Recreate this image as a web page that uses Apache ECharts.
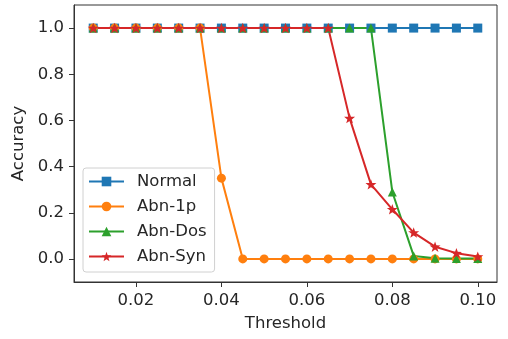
<!DOCTYPE html>
<html>
<head>
<meta charset="utf-8">
<script src="https://cdn.jsdelivr.net/npm/echarts@6/dist/echarts.min.js"></script>
<style>
  html, body { margin: 0; padding: 0; background: #fff; }
  #chart { width: 508px; height: 339px; }
</style>
</head>
<body>
<div id="chart"></div>
<script>
// 阈值 (x)
const thresholds = [0.01, 0.015, 0.02, 0.025, 0.03, 0.035, 0.04, 0.045, 0.05, 0.055,
  0.06, 0.065, 0.07, 0.075, 0.08, 0.085, 0.09, 0.095, 0.10]
// 各类样本的准确率
const normal = [1, 1, 1, 1, 1, 1, 1, 1, 1, 1, 1, 1, 1, 1, 1, 1, 1, 1, 1]
const abn1p = [1, 1, 1, 1, 1, 1, 0.35, 0, 0, 0, 0, 0, 0, 0, 0, 0, 0, 0, 0]
const abnDos = [1, 1, 1, 1, 1, 1, 1, 1, 1, 1, 1, 1, 1, 1, 0.29, 0.013, 0.003, 0.002, 0.002]
const abnSyn = [1, 1, 1, 1, 1, 1, 1, 1, 1, 1, 1, 1, 0.61, 0.323, 0.215, 0.114, 0.053, 0.025, 0.01]
// 刻度
const xTicks = [0.02, 0.04, 0.06, 0.08, 0.10]
const yTicks = [0.0, 0.2, 0.4, 0.6, 0.8, 1.0]

const STAR = 'path://M0,-10 L2.35,-3.24 L9.51,-3.09 L3.8,1.24 L5.88,8.09 L0,4 L-5.88,8.09 L-3.8,1.24 L-9.51,-3.09 L-2.35,-3.24 Z'
const FONT = 'DejaVu Sans'
const TXT = '#262626'

function pairs(ys) {
  return thresholds.map((x, i) => [x, ys[i]])
}

function lineSeries(name, ys, color, symbol, size) {
  return {
    name,
    type: 'line',
    data: pairs(ys),
    symbol,
    symbolSize: size,
    symbolKeepAspect: true,
    showAllSymbol: true,
    itemStyle: { color },
    lineStyle: { color, width: 2 },
    emphasis: { disabled: true },
    animation: false
  }
}

const chart = echarts.init(document.getElementById('chart'))

chart.setOption({
  animation: false,
  grid: {
    left: 74, right: 11, top: 5, bottom: 57,
    outerBoundsMode: 'none',
    show: true, borderColor: '#333', borderWidth: 1
  },
  legend: {
    orient: 'vertical',
    left: 83,
    top: 168,
    padding: [5, 8, 7, 5],
    itemWidth: 35,
    itemHeight: 12,
    itemGap: 8,
    borderColor: '#d0d0d0',
    borderWidth: 1,
    borderRadius: 3,
    backgroundColor: 'rgba(255,255,255,0.8)',
    textStyle: { fontFamily: FONT, fontSize: 16.5, color: TXT, padding: [0, 0, 0, 8] },
    data: ['Normal', 'Abn-1p', 'Abn-Dos', 'Abn-Syn']
  },
  xAxis: {
    type: 'value',
    min: 0.0055,
    max: 0.1045,
    name: 'Threshold',
    nameLocation: 'middle',
    nameGap: 33,
    nameTextStyle: { fontFamily: FONT, fontSize: 16.5, color: TXT },
    axisLine: { show: true, onZero: false, lineStyle: { color: '#333', width: 1 } },
    axisTick: { show: true, length: 5, customValues: xTicks, lineStyle: { color: '#333' } },
    axisLabel: {
      customValues: xTicks,
      margin: 10,
      fontFamily: FONT, fontSize: 16.5, color: TXT,
      formatter: v => v.toFixed(2)
    },
    splitLine: { show: false }
  },
  yAxis: {
    type: 'value',
    min: -0.1,
    max: 1.1,
    name: 'Accuracy',
    nameLocation: 'middle',
    nameGap: 44,
    nameTextStyle: { fontFamily: FONT, fontSize: 16.5, color: TXT },
    axisLine: { show: true, onZero: false, lineStyle: { color: '#333', width: 1 } },
    axisTick: { show: true, length: 5, customValues: yTicks, lineStyle: { color: '#333' } },
    axisLabel: {
      customValues: yTicks,
      margin: 10,
      fontFamily: FONT, fontSize: 16.5, color: TXT,
      formatter: v => v.toFixed(1)
    },
    splitLine: { show: false }
  },
  series: [
    lineSeries('Normal', normal, '#1f77b4', 'rect', 9),
    lineSeries('Abn-1p', abn1p, '#ff7f0e', 'circle', 9),
    lineSeries('Abn-Dos', abnDos, '#2ca02c', 'triangle', 9),
    lineSeries('Abn-Syn', abnSyn, '#d62728', STAR, 11)
  ]
})
</script>
</body>
</html>
